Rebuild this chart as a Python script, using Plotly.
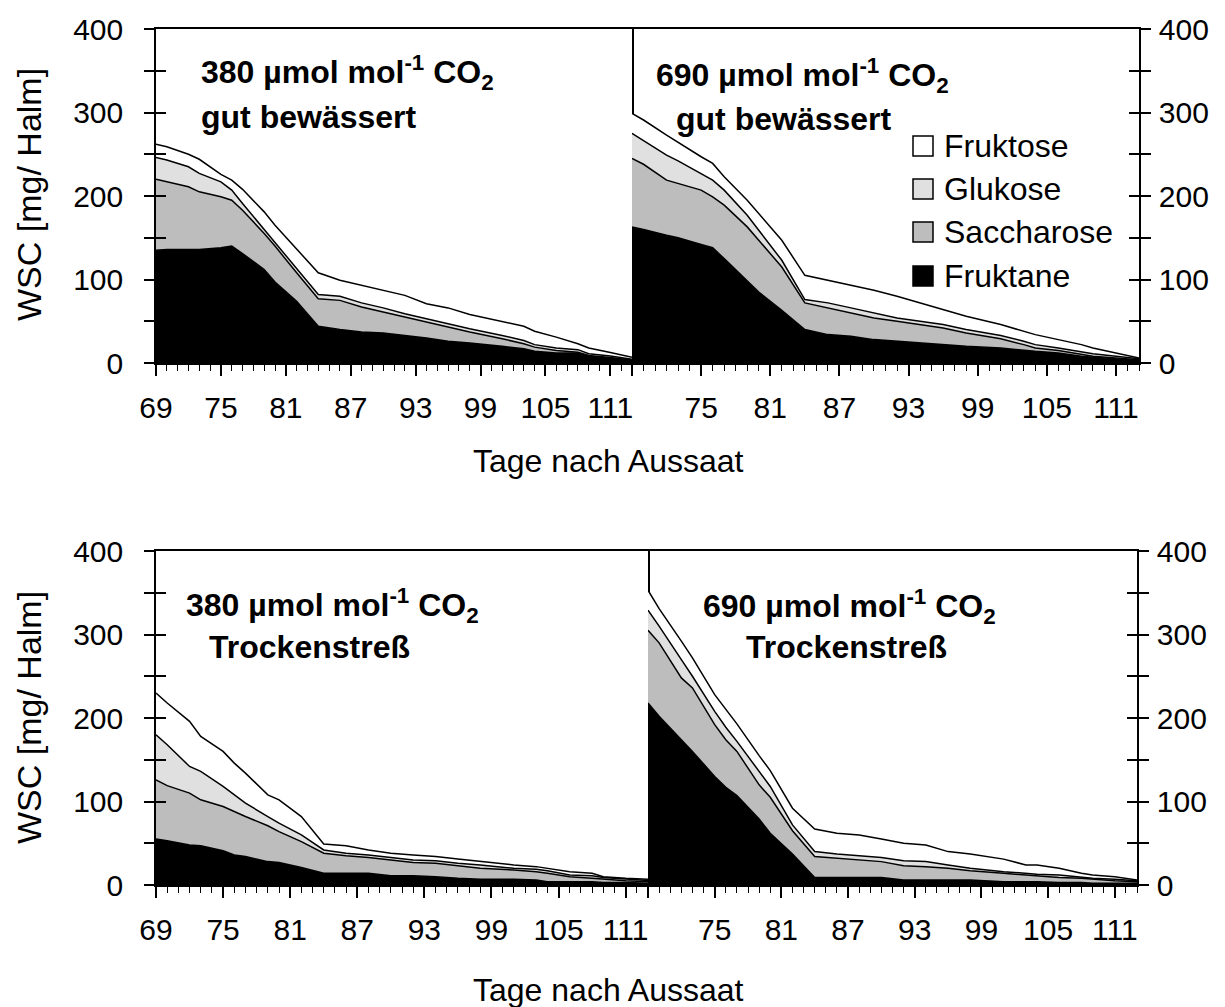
import plotly.graph_objects as go

W, H = 1225, 1007

# Sampling days (Tage nach Aussaat)
days = [69, 70, 72, 73, 75, 76, 77, 79, 80, 82, 84, 86, 88, 90, 92, 94, 96, 98,
        101, 103, 104, 106, 108, 109, 111, 113]

# WSC components [mg/ Halm]; 380 µmol mol-1 CO2, gut bewässert
tl_fruktane = [135, 136, 136, 136, 138, 140, 131, 112, 97, 74, 44, 40, 37, 36, 33, 30, 26, 24, 20, 17, 14, 12, 12, 8, 6, 3]
tl_saccharose = [85, 81, 75, 69, 61, 55, 52, 43, 43, 34, 33, 35, 30, 25, 22, 19, 17, 13, 9, 6, 5, 3, 1, 1, 0.5, 0.5]
tl_glukose = [26, 26, 24, 22, 18, 12, 8, 5, 5, 5, 5, 5, 5, 5, 4, 4, 4, 4, 4, 4, 3, 3, 3, 2, 2, 1]
tl_fruktose = [16, 16, 15, 17, 9, 12, 17, 21, 20, 23, 26, 19, 21, 21, 22, 18, 19, 17, 17, 17, 16, 13, 7, 7, 4, 2.5]

# 690 µmol mol-1 CO2, gut bewässert
tr_fruktane = [163, 160, 153, 150, 142, 138, 125, 99, 85, 63, 40, 34, 32, 28, 26, 24, 22, 20, 18, 15, 14, 12, 8, 7, 5, 3]
tr_saccharose = [82, 78, 66, 65, 65, 61, 64, 64, 62, 52, 32, 32, 28, 26, 24, 22, 20, 16, 11, 7, 4, 3, 2, 1, 1, 1]
tr_glukose = [30, 28, 30, 27, 20, 20, 18, 14, 12, 8, 4, 6, 6, 6, 4, 4, 4, 4, 4, 4, 4, 3, 3, 3, 2, 1]
tr_fruktose = [24, 25, 24, 22, 20, 20, 16, 18, 20, 24, 29, 27, 27, 27, 26, 22, 18, 16, 13, 12, 12, 10, 9, 7, 4, 1]

# 380 µmol mol-1 CO2, Trockenstreß
bl_fruktane = [55, 53, 48, 47, 41, 36, 34, 28, 27, 21, 14, 14, 14, 11, 11, 10, 8, 7, 7, 6, 4, 4, 4, 3, 3, 2]
bl_saccharose = [71, 66, 62, 55, 53, 52, 48, 43, 37, 31, 24, 21, 19, 19, 16, 16, 15, 13, 11, 10, 10, 6, 4, 4, 2, 2]
bl_glukose = [54, 49, 32, 34, 24, 20, 16, 11, 10, 8, 4, 3, 3, 3, 3, 3, 3, 4, 2, 3, 3, 2, 3, 2, 2, 1.5]
bl_fruktose = [50, 50, 54, 42, 42, 38, 36, 26, 28, 22, 7, 9, 6, 5, 6, 5, 5, 4, 4, 3, 3, 4, 3, 1, 1, 1.5]

# 690 µmol mol-1 CO2, Trockenstreß
br_fruktane = [218, 202, 174, 160, 130, 117, 107, 79, 62, 37, 9, 9, 9, 9, 6, 6, 6, 6, 4, 4, 4, 3, 3, 2, 2, 2]
br_saccharose = [87, 88, 74, 76, 62, 57, 53, 41, 43, 28, 25, 23, 21, 19, 17, 16, 14, 11, 10, 8, 7, 6, 5, 5, 3, 2]
br_glukose = [24, 20, 22, 14, 16, 15, 12, 15, 13, 7, 6, 5, 5, 5, 6, 6, 4, 3, 2, 2, 2, 3, 1, 1, 2, 1]
br_fruktose = [24, 21, 22, 22, 20, 21, 21, 20, 19, 20, 27, 25, 25, 22, 21, 20, 16, 17, 15, 10, 11, 8, 5, 4, 3, 1]

components = ["Fruktane", "Saccharose", "Glukose", "Fruktose"]
fill_colors = ["#000000", "#bdbdbd", "#e0e0e0", "#ffffff"]
legend_order = ["Fruktose", "Glukose", "Saccharose", "Fruktane"]

x_tick_vals = [69, 75, 81, 87, 93, 99, 105, 111]

FONT = "Liberation Sans, Arial, sans-serif"
TICK_SIZE = 30
LABEL_SIZE = 32
TITLE_SIZE = 32


def px_x(p):
    return p / W


def px_y(p):
    return 1 - p / H


panels = [
    dict(key="", data=[tl_fruktane, tl_saccharose, tl_glukose, tl_fruktose],
         xd=(156, 632), yd=(29, 363), side="left", first_label=True,
         title="380 µmol mol<sup>-1</sup> CO<sub>2</sub>", subtitle="gut bewässert",
         t_pos=(199, 72), s_pos=(199, 117)),
    dict(key="2", data=[tr_fruktane, tr_saccharose, tr_glukose, tr_fruktose],
         xd=(632, 1139), yd=(29, 363), side="right", first_label=False,
         title="690 µmol mol<sup>-1</sup> CO<sub>2</sub>", subtitle="gut bewässert",
         t_pos=(654, 76), s_pos=(674, 119)),
    dict(key="3", data=[bl_fruktane, bl_saccharose, bl_glukose, bl_fruktose],
         xd=(156, 648), yd=(551, 885), side="left", first_label=True,
         title="380 µmol mol<sup>-1</sup> CO<sub>2</sub>", subtitle="Trockenstreß",
         t_pos=(184, 605), s_pos=(207, 647)),
    dict(key="4", data=[br_fruktane, br_saccharose, br_glukose, br_fruktose],
         xd=(648, 1137), yd=(551, 885), side="right", first_label=False,
         title="690 µmol mol<sup>-1</sup> CO<sub>2</sub>", subtitle="Trockenstreß",
         t_pos=(701, 606), s_pos=(744, 647)),
]

fig = go.Figure()
layout = dict(
    width=W, height=H,
    margin=dict(l=0, r=0, t=0, b=0, autoexpand=False),
    paper_bgcolor="white", plot_bgcolor="white",
    showlegend=False,
    font=dict(family=FONT, size=TICK_SIZE, color="black"),
)

annotations = []
shapes = []

for i, p in enumerate(panels):
    k = p["key"]
    xname, yname = "x" + k, "y" + k
    over_id = str(5 + i)
    for comp, vals, col in zip(components, p["data"], fill_colors):
        fig.add_trace(go.Scatter(
            x=days, y=vals, xaxis=xname, yaxis=yname,
            mode="lines", stackgroup="g" + str(i), name=comp,
            line=dict(color="black", width=1.5),
            fillcolor=col, hoverinfo="skip",
        ))

    ticktext = [str(v) for v in x_tick_vals]
    if not p["first_label"]:
        ticktext[0] = ""
    layout["xaxis" + k] = dict(
        domain=[px_x(p["xd"][0]), px_x(p["xd"][1])], anchor=yname,
        range=[69, 113], tickmode="array", tickvals=x_tick_vals, ticktext=ticktext,
        ticks="outside", ticklen=11, tickwidth=1.5, tickcolor="black",
        minor=dict(tickmode="linear", tick0=69, dtick=1, ticks="outside",
                   ticklen=6, tickwidth=1.3, tickcolor="black"),
        showline=True, linecolor="black", linewidth=1.6, mirror=True,
        showgrid=False, zeroline=False, ticklabelstandoff=6, automargin=False,
        tickfont=dict(size=TICK_SIZE, family=FONT),
    )
    ycommon = dict(
        range=[0, 400], dtick=100, tick0=0, tickcolor="black", tickwidth=1.5,
        showgrid=False, zeroline=False, side=p["side"], anchor=xname, automargin=False,
    )
    # The left panel's mirrored line already forms the shared border between panels
    layout["yaxis" + k] = dict(
        ycommon, domain=[px_y(p["yd"][1]), px_y(p["yd"][0])],
        ticks="outside", ticklen=10,
        minor=dict(dtick=50, ticks="outside", ticklen=10, tickwidth=1.5, tickcolor="black"),
        showline=True, linecolor="black", linewidth=1.6, mirror=(p["side"] == "left"),
        ticklabelstandoff=(15 if p["side"] == "left" else 2),
        tickfont=dict(size=TICK_SIZE, family=FONT),
    )
    # Second copy of the value axis carries the inward half of the crossing ticks
    layout["yaxis" + over_id] = dict(
        ycommon, overlaying=yname, ticks="inside", ticklen=10,
        minor=dict(dtick=50, ticks="inside", ticklen=10, tickwidth=1.5, tickcolor="black"),
        showticklabels=False, showline=False,
    )
    fig.add_trace(go.Scatter(x=[None], y=[None], xaxis=xname, yaxis="y" + over_id,
                             showlegend=False, hoverinfo="skip"))

    # Treatment labels inside each panel
    annotations.append(dict(
        text="<b>" + p["title"] + "</b>", xref="paper", yref="paper",
        x=px_x(p["t_pos"][0]), y=px_y(p["t_pos"][1]), xanchor="left", yanchor="middle",
        showarrow=False, font=dict(size=LABEL_SIZE, family=FONT, color="black"),
    ))
    annotations.append(dict(
        text="<b>" + p["subtitle"] + "</b>", xref="paper", yref="paper",
        x=px_x(p["s_pos"][0]), y=px_y(p["s_pos"][1]), xanchor="left", yanchor="middle",
        showarrow=False, font=dict(size=LABEL_SIZE, family=FONT, color="black"),
    ))

# Axis titles
for yc in (195, 718):
    annotations.append(dict(
        text="WSC [mg/ Halm]", xref="paper", yref="paper", x=px_x(29), y=px_y(yc),
        xanchor="center", yanchor="middle", textangle=-90, showarrow=False,
        font=dict(size=34, family=FONT, color="black"),
    ))
for yc in (461, 990):
    annotations.append(dict(
        text="Tage nach Aussaat", xref="paper", yref="paper", x=px_x(608), y=px_y(yc),
        xanchor="center", yanchor="middle", showarrow=False,
        font=dict(size=TITLE_SIZE, family=FONT, color="black"),
    ))

# Legend in the upper right panel
leg_rows = [146, 189, 232, 276]
color_of = dict(zip(components, fill_colors))
for name, yc in zip(legend_order, leg_rows):
    shapes.append(dict(
        type="rect", xref="paper", yref="paper",
        x0=px_x(913), x1=px_x(933), y0=px_y(yc - 10), y1=px_y(yc + 10),
        fillcolor=color_of[name], line=dict(color="black", width=1.5),
    ))
    annotations.append(dict(
        text=name, xref="paper", yref="paper", x=px_x(942), y=px_y(yc),
        xanchor="left", yanchor="middle", showarrow=False,
        font=dict(size=32, family=FONT, color="black"),
    ))

layout["annotations"] = annotations
layout["shapes"] = shapes
fig.update_layout(**layout)

fig.write_html("out.html")
